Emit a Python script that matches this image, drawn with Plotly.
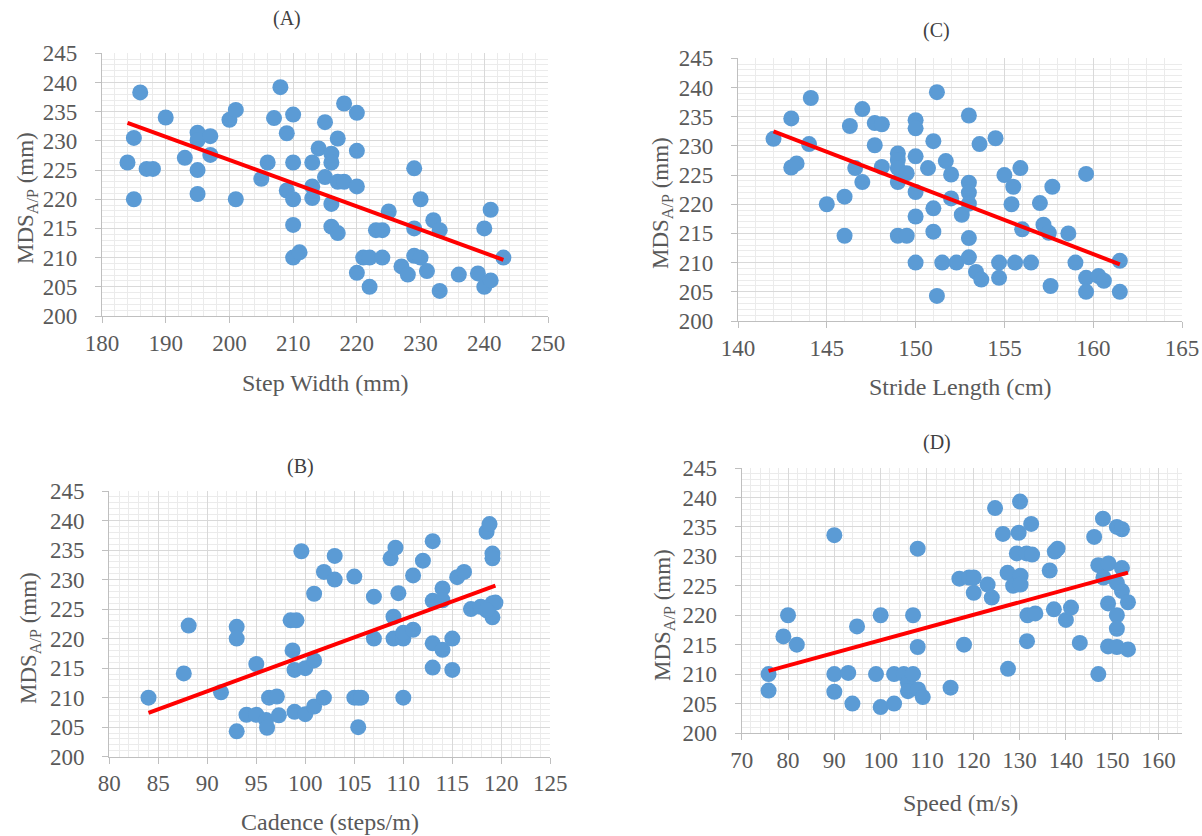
import numpy as np
import plotly.graph_objects as go

# ---------------- Data ----------------
# (A) Step Width (mm) vs MDS_A/P (mm)
step_width = [184, 185, 185, 186, 187, 188, 190, 193, 195, 195, 195, 195, 197, 197, 200, 201, 201,
              205, 206, 207, 208, 209, 209, 210, 210, 210, 210, 210, 211, 213, 213, 213, 214, 215,
              215, 216, 216, 216, 216, 217, 217, 217, 218, 218, 220, 220, 220, 220, 221, 222, 222,
              223, 224, 224, 225, 227, 228, 229, 229, 229, 230, 230, 231, 232, 233, 233, 236, 239,
              240, 240, 241, 241, 243]
mds_a = [226.3, 230.5, 220.0, 238.3, 225.2, 225.2, 234.0, 227.1, 231.4, 230.1, 225.0, 220.9, 230.8,
         227.6, 233.6, 235.3, 220.0, 223.5, 226.3, 233.9, 239.2, 231.3, 221.5, 234.5, 226.3, 220.0,
         215.6, 210.0, 210.9, 226.3, 222.2, 220.2, 228.7, 233.2, 223.8, 227.8, 226.3, 219.2, 215.3,
         230.4, 223.0, 214.2, 236.4, 223.0, 234.8, 228.3, 222.2, 207.4, 210.0, 210.0, 205.0, 214.7,
         214.7, 210.0, 217.9, 208.5, 207.1, 225.3, 215.0, 210.3, 220.0, 210.0, 207.7, 216.4, 214.7,
         204.3, 207.1, 207.3, 215.0, 205.0, 218.2, 206.1, 210.0]

# (C) Stride Length (cm) vs MDS_A/P (mm)
stride_length = [142.0, 143.0, 143.0, 143.3, 144.0, 144.1, 145.0, 146.0, 146.0, 146.3, 146.6, 147.0,
                 147.0, 147.7, 147.7, 148.1, 148.1, 149.0, 149.0, 149.0, 149.0, 149.0, 149.5, 149.5,
                 150.0, 150.0, 150.0, 150.0, 150.0, 150.0, 150.7, 151.0, 151.0, 151.0, 151.2, 151.2,
                 151.5, 151.7, 152.0, 152.0, 152.3, 152.6, 153.0, 153.0, 153.0, 153.0, 153.0, 153.0,
                 153.4, 153.7, 153.6, 154.5, 154.7, 154.7, 155.0, 155.4, 155.5, 155.6, 155.9, 156.0,
                 156.5, 157.0, 157.2, 157.5, 157.7, 157.6, 158.6, 159.0, 159.6, 159.6, 159.6, 160.3,
                 160.6, 161.5, 161.5]
mds_c = [231.2, 234.7, 226.3, 227.0, 230.3, 238.2, 220.0, 221.3, 214.6, 233.4, 226.2, 236.3, 223.8,
         233.9, 230.1, 233.7, 226.4, 228.7, 227.6, 226.2, 223.8, 214.6, 225.3, 214.6, 234.4, 233.0,
         228.2, 222.1, 217.9, 210.0, 226.2, 230.8, 219.3, 215.3, 204.3, 239.2, 210.0, 227.4, 225.1,
         221.0, 210.0, 218.2, 235.2, 223.7, 222.0, 220.1, 214.2, 210.9, 208.4, 207.1, 230.3, 231.3,
         210.0, 207.4, 225.0, 220.0, 223.0, 210.0, 226.2, 215.7, 210.0, 220.2, 216.5, 215.1, 223.0,
         206.0, 215.0, 210.0, 225.2, 207.4, 205.0, 207.7, 206.9, 210.3, 205.0]

# (B) Cadence (steps/m) vs MDS_A/P (mm)
cadence = [84.0, 87.6, 88.1, 91.4, 93.0, 93.0, 93.0, 94.0, 95.0, 95.0, 96.0, 96.1, 96.3, 97.1, 97.3,
           98.5, 99.1, 98.7, 98.9, 98.9, 99.6, 100.0, 100.0, 100.9, 100.9, 100.9, 101.9, 101.9,
           103.0, 103.0, 105.0, 105.0, 105.4, 105.4, 105.7, 107.0, 107.0, 108.7, 109.2, 109.0,
           109.0, 109.5, 110.0, 110.0, 110.0, 111.0, 111.0, 112.0, 113.0, 113.0, 113.0, 113.0,
           114.0, 114.0, 114.0, 115.0, 115.0, 115.5, 116.2, 116.9, 117.9, 118.5, 118.8, 119.1,
           119.1, 119.1, 119.1, 119.4, 118.5]
mds_b = [210.0, 214.1, 222.2, 210.9, 222.0, 220.0, 204.3, 207.1, 207.1, 215.7, 206.2, 204.9, 210.0,
         210.2, 207.0, 223.1, 223.1, 218.0, 214.7, 207.6, 234.8, 207.2, 215.0, 227.6, 216.3, 208.5,
         231.3, 210.0, 234.0, 230.0, 230.5, 210.0, 210.0, 205.0, 210.0, 227.1, 220.0, 233.6, 235.4,
         223.7, 220.0, 227.7, 220.0, 210.0, 221.0, 221.5, 230.7, 233.2, 236.5, 226.4, 219.2, 215.1,
         228.5, 226.5, 218.1, 220.0, 214.7, 230.4, 231.3, 225.0, 225.4, 238.1, 239.4, 234.4, 233.6,
         226.0, 223.6, 226.1, 224.8]

# (D) Speed (m/s) vs MDS_A/P (mm)
speed = [75.8, 75.8, 79.0, 80.0, 81.9, 90.0, 90.0, 90.0, 93.0, 93.9, 94.9, 99.0, 100.0, 100.0, 102.9,
         102.9, 105.0, 105.9, 105.9, 107.0, 107.0, 108.0, 108.0, 108.1, 109.1, 115.1, 117.0, 118.0,
         119.1, 120.1, 120.1, 123.1, 124.0, 124.7, 126.4, 127.4, 127.5, 128.6, 129.4, 129.8, 130.1,
         130.2, 130.2, 131.5, 131.6, 131.7, 132.5, 132.7, 133.4, 136.5, 137.4, 137.6, 138.2, 140.0,
         141.1, 143.0, 146.1, 147.0, 147.0, 148.0, 148.1, 149.2, 149.1, 149.1, 151.0, 151.0, 151.0,
         151.0, 151.0, 152.1, 152.1, 152.1, 153.4, 153.4]
mds_d = [210.0, 207.2, 216.4, 220.0, 215.0, 233.6, 210.0, 207.0, 210.2, 205.0, 218.1, 210.0, 220.0,
         204.4, 210.0, 205.0, 210.0, 208.5, 207.1, 210.0, 220.0, 231.3, 214.6, 207.4, 206.1, 207.7,
         226.2, 215.0, 226.4, 226.4, 223.8, 225.2, 223.0, 238.2, 233.8, 227.2, 210.9, 225.0, 230.5,
         234.0, 239.3, 226.7, 225.2, 230.5, 215.6, 220.0, 235.5, 230.3, 220.3, 227.6, 221.0, 230.8,
         231.3, 219.2, 221.3, 215.3, 233.3, 228.5, 210.0, 236.4, 226.4, 228.8, 222.0, 214.7, 235.0,
         225.5, 220.0, 217.7, 214.6, 234.6, 228.0, 224.1, 222.2, 214.2]

panel_titles = ["(A)", "(C)", "(B)", "(D)"]
x_titles = ["Step Width (mm)", "Stride Length (cm)", "Cadence (steps/m)", "Speed (m/s)"]
y_title = "MDS<sub>A/P</sub> (mm)"

# ---------------- Styling / layout ----------------
W, H = 1202, 836
FONT = "Liberation Serif"
MARKER = "#5B9BD5"
TEXT = "#595959"


def px_x(p):
    return p / W


def px_y(p):
    return 1 - p / H


panels = [
    dict(x=step_width, y=mds_a, box=(102, 548, 53.3, 316), xr=(180, 250), dt=10, mdt=2,
         title_xy=(287, 19), xt_xy=(325, 383), yt_xy=(27, 198)),
    dict(x=stride_length, y=mds_c, box=(738, 1182, 58.3, 321), xr=(140, 165), dt=5, mdt=1,
         title_xy=(936, 30), xt_xy=(960, 387), yt_xy=(662, 203)),
    dict(x=cadence, y=mds_b, box=(109.3, 550.3, 491, 756.7), xr=(80, 125), dt=5, mdt=1,
         title_xy=(300, 466), xt_xy=(330, 822), yt_xy=(30, 638)),
    dict(x=speed, y=mds_d, box=(741.7, 1181.7, 468, 733), xr=(70, 165), dt=10, mdt=2,
         title_xy=(937, 443), xt_xy=(960, 803), yt_xy=(664, 615)),
]

fig = go.Figure()
annotations = []
layout_axes = {}

for i, p in enumerate(panels, start=1):
    xa = "x" if i == 1 else f"x{i}"
    ya = "y" if i == 1 else f"y{i}"
    xs = np.array(p["x"], dtype=float)
    ys = np.array(p["y"], dtype=float)

    fig.add_trace(go.Scatter(x=xs, y=ys, mode="markers", xaxis=xa, yaxis=ya,
                             marker=dict(size=16, color=MARKER, line=dict(width=0)),
                             showlegend=False, hoverinfo="x+y"))
    # linear trend line fitted from the data
    slope, intercept = np.polyfit(xs, ys, 1)
    tx = np.array([xs.min(), xs.max()])
    fig.add_trace(go.Scatter(x=tx, y=slope * tx + intercept, mode="lines", xaxis=xa, yaxis=ya,
                             line=dict(color="#FF0000", width=4), showlegend=False,
                             hoverinfo="skip"))

    l, r, t, b = p["box"]
    axis_common = dict(
        showgrid=True, gridcolor="#D9D9D9", gridwidth=1.3,
        showline=True, linecolor="#BFBFBF", linewidth=1.3,
        ticks="outside", ticklen=6, tickcolor="#BFBFBF", tickwidth=1.3,
        tickfont=dict(family=FONT, size=23, color=TEXT),
        zeroline=False, fixedrange=True, automargin=False,
    )
    xkey = "xaxis" if i == 1 else f"xaxis{i}"
    ykey = "yaxis" if i == 1 else f"yaxis{i}"
    layout_axes[xkey] = dict(
        axis_common, domain=[px_x(l), px_x(r)], range=list(p["xr"]), dtick=p["dt"],
        tick0=p["xr"][0], anchor=ya,
        minor=dict(dtick=p["mdt"], showgrid=True, gridcolor="#EBEBEB", gridwidth=1),
    )
    layout_axes[ykey] = dict(
        axis_common, domain=[px_y(b), px_y(t)], range=[200, 245], dtick=5, tick0=200,
        anchor=xa, ticklabelstandoff=13,
        minor=dict(dtick=1, showgrid=True, gridcolor="#EBEBEB", gridwidth=1),
    )

    tx_, ty_ = p["title_xy"]
    annotations.append(dict(text=panel_titles[i - 1], x=px_x(tx_), y=px_y(ty_), xref="paper",
                            yref="paper", showarrow=False, xanchor="center", yanchor="middle",
                            font=dict(family=FONT, size=20, color="#404040")))
    ax_, ay_ = p["xt_xy"]
    annotations.append(dict(text=x_titles[i - 1], x=px_x(ax_), y=px_y(ay_), xref="paper",
                            yref="paper", showarrow=False, xanchor="center", yanchor="middle",
                            font=dict(family=FONT, size=24, color=TEXT)))
    yx_, yy_ = p["yt_xy"]
    annotations.append(dict(text=y_title, x=px_x(yx_), y=px_y(yy_), xref="paper",
                            yref="paper", showarrow=False, xanchor="center", yanchor="middle",
                            textangle=-90, font=dict(family=FONT, size=23, color=TEXT)))

fig.update_layout(
    width=W, height=H,
    margin=dict(l=0, r=0, t=0, b=0, autoexpand=False),
    paper_bgcolor="white", plot_bgcolor="white",
    annotations=annotations,
    **layout_axes,
)

fig.write_html(
    "out.html",
    config={"displayModeBar": False},
    post_script="document.body.style.margin='0';document.body.style.overflow='hidden';",
)
